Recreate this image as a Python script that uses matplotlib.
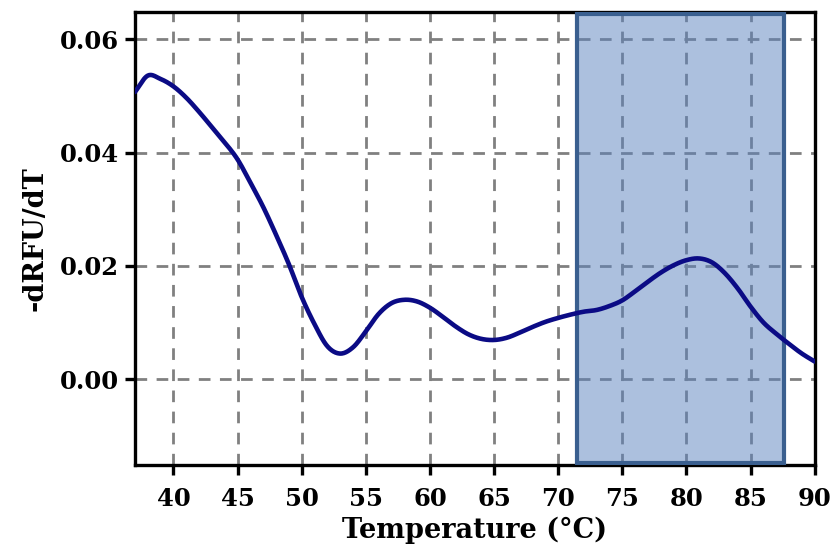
import numpy as np
import matplotlib
matplotlib.use("Agg")
import matplotlib.pyplot as plt

# melt curve, every 1 °C
temp = list(range(37, 91))
drfu = [0.0507, 0.0536, 0.0530, 0.0517, 0.0497, 0.0472, 0.0445, 0.0418,
        0.0388, 0.0347, 0.0304, 0.0255, 0.0203, 0.0145, 0.0097, 0.0058,
        0.0045, 0.0056, 0.0084, 0.0115, 0.0134, 0.0140, 0.0137, 0.0126,
        0.0110, 0.0093, 0.0079, 0.0071, 0.0069, 0.0073, 0.0082, 0.0092,
        0.0101, 0.0108, 0.0114, 0.0119, 0.0122, 0.0129, 0.0139, 0.0155,
        0.0172, 0.0188, 0.0201, 0.0210, 0.0213, 0.0206, 0.0187, 0.0160,
        0.0128, 0.0100, 0.0080, 0.0062, 0.0045, 0.0031]

# highlighted melting window
region = (71.5, 87.6)

xticks = [40, 45, 50, 55, 60, 65, 70, 75, 80, 85, 90]
yticks = [0.00, 0.02, 0.04, 0.06]


def catmull_rom(x, y, n=20):
    # smooth curve through the read points (no scipy here)
    x = np.asarray(x, float)
    y = np.asarray(y, float)
    px = np.concatenate([[2 * x[0] - x[1]], x, [2 * x[-1] - x[-2]]])
    py = np.concatenate([[2 * y[0] - y[1]], y, [2 * y[-1] - y[-2]]])
    t = np.linspace(0, 1, n, endpoint=False)
    outx, outy = [], []
    for i in range(1, len(px) - 2):
        for p, out in ((px, outx), (py, outy)):
            p0, p1, p2, p3 = p[i - 1], p[i], p[i + 1], p[i + 2]
            out.append(0.5 * (2 * p1 + (-p0 + p2) * t
                              + (2 * p0 - 5 * p1 + 4 * p2 - p3) * t ** 2
                              + (-p0 + 3 * p1 - 3 * p2 + p3) * t ** 3))
    return np.concatenate(outx + [[x[-1]]]), np.concatenate(outy + [[y[-1]]])


plt.rcParams['font.family'] = ['DejaVu Serif']
plt.rcParams['font.weight'] = 'bold'

fig = plt.figure(figsize=(8.33, 5.55), dpi=100)
ax = fig.add_axes([0.162, 0.162, 0.816, 0.816])

xs, ys = catmull_rom(temp, drfu)
ax.plot(xs, ys, color='#0b0b85', lw=3.3, zorder=4, solid_capstyle='round')

ax.axvspan(region[0], region[1], ymin=0.004, ymax=0.996,
           facecolor=(0.357, 0.514, 0.749, 0.5), edgecolor='#3a5f8f',
           lw=3, zorder=3)

ax.set_xlim(37, 90)
ax.set_ylim(-0.0152, 0.0648)
ax.set_xticks(xticks)
ax.set_yticks(yticks)
ax.set_yticklabels([f"{v:.2f}" for v in yticks])

ax.grid(True, color='#808080', ls=(0, (4.2, 3.4)), lw=2, zorder=2)
ax.set_axisbelow(True)

for s in ax.spines.values():
    s.set_linewidth(2.4)
ax.tick_params(axis='both', length=7.5, width=2.4, labelsize=17.5)
ax.tick_params(axis='x', pad=8)
ax.tick_params(axis='y', pad=4)

ax.set_xlabel('Temperature (°C)', fontsize=19.5, fontweight='bold', labelpad=4)
ax.set_ylabel('-dRFU/dT', fontsize=19.5, fontweight='bold', labelpad=8)

fig.savefig('out.png', dpi=100)
